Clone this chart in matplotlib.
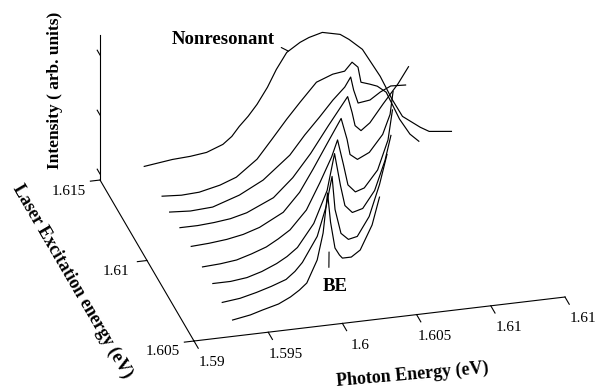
import numpy as np
import matplotlib
matplotlib.use("Agg")
import matplotlib.pyplot as plt
from mpl_toolkits.mplot3d import proj3d

plt.rcParams['font.family'] = ['Liberation Serif', 'DejaVu Serif']

# ---------------- data ----------------
photon_ticks = [1.59, 1.595, 1.6, 1.605, 1.61, 1.615]
photon_labels = ['1.59', '1.595', '1.6', '1.605', '1.61', '1.61']
laser_ticks = [1.605, 1.61, 1.615]
laser_labels = ['1.605', '1.61', '1.615']
intensity_ticks = [0.06, 0.65, 1.25]

laser_energy = [1.6050, 1.6061, 1.6071, 1.6082, 1.6094, 1.6106, 1.6117, 1.6125, 1.6144]

photon_1 = [1.5926, 1.5938, 1.5946, 1.5957, 1.5965, 1.5971, 1.5976, 1.5983, 1.5987, 1.5990, 1.5992, 1.5995, 1.5998, 1.6000, 1.6006, 1.6012, 1.6020, 1.6025]
inten_1 = [0.164, 0.194, 0.228, 0.270, 0.326, 0.384, 0.446, 0.664, 0.927, 1.322, 1.028, 0.763, 0.688, 0.653, 0.653, 0.713, 0.949, 1.219]

photon_2 = [1.5926, 1.5938, 1.5949, 1.5959, 1.5969, 1.5975, 1.5980, 1.5990, 1.5996, 1.6000, 1.6002, 1.6006, 1.6011, 1.6017, 1.6025, 1.6032, 1.6037]
inten_2 = [0.163, 0.183, 0.222, 0.265, 0.317, 0.387, 0.468, 0.711, 0.999, 1.293, 0.959, 0.713, 0.644, 0.663, 0.848, 1.157, 1.447]

photon_3 = [1.5926, 1.5938, 1.5949, 1.5959, 1.5969, 1.5976, 1.5983, 1.5994, 1.6003, 1.6008, 1.6012, 1.6015, 1.6020, 1.6027, 1.6035, 1.6042, 1.6046]
inten_3 = [0.191, 0.191, 0.210, 0.253, 0.315, 0.373, 0.451, 0.672, 0.986, 1.346, 1.020, 0.814, 0.736, 0.764, 0.929, 1.217, 1.461]

photon_4 = [1.5926, 1.5938, 1.5949, 1.5959, 1.5969, 1.5977, 1.5985, 1.5996, 1.6005, 1.6013, 1.6017, 1.6021, 1.6024, 1.6029, 1.6035, 1.6044, 1.6051, 1.6054]
inten_4 = [0.180, 0.190, 0.209, 0.252, 0.304, 0.370, 0.447, 0.626, 0.881, 1.127, 1.290, 1.034, 0.828, 0.749, 0.778, 0.942, 1.230, 1.525]

photon_5 = [1.5926, 1.5938, 1.5950, 1.5961, 1.5972, 1.5988, 1.5999, 1.6008, 1.6018, 1.6027, 1.6031, 1.6033, 1.6038, 1.6046, 1.6055, 1.6060, 1.6062]
inten_5 = [0.192, 0.202, 0.220, 0.250, 0.301, 0.424, 0.604, 0.818, 1.070, 1.294, 1.078, 0.923, 0.865, 0.921, 1.085, 1.277, 1.502]

photon_6 = [1.5926, 1.5938, 1.5949, 1.5960, 1.5971, 1.5989, 1.6002, 1.6014, 1.6026, 1.6039, 1.6042, 1.6044, 1.6048, 1.6054, 1.6063, 1.6073, 1.6080]
inten_6 = [0.186, 0.186, 0.197, 0.216, 0.256, 0.375, 0.552, 0.772, 1.030, 1.298, 1.133, 0.999, 0.942, 1.010, 1.185, 1.368, 1.525]

photon_7 = [1.5926, 1.5940, 1.5955, 1.5973, 1.5989, 1.6007, 1.6017, 1.6027, 1.6036, 1.6044, 1.6048, 1.6050, 1.6053, 1.6061, 1.6068, 1.6075, 1.6085]
inten_7 = [0.165, 0.151, 0.164, 0.252, 0.374, 0.592, 0.775, 0.937, 1.091, 1.207, 1.301, 1.167, 1.032, 1.048, 1.116, 1.164, 1.156]

photon_8 = [1.5926, 1.5939, 1.5951, 1.5965, 1.5976, 1.5990, 1.6000, 1.6010, 1.6019, 1.6030, 1.6041, 1.6049, 1.6054, 1.6058, 1.6060, 1.6066, 1.6071, 1.6077, 1.6081, 1.6086, 1.6093, 1.6099]
inten_8 = [0.195, 0.182, 0.191, 0.237, 0.297, 0.453, 0.634, 0.818, 0.972, 1.152, 1.213, 1.229, 1.310, 1.253, 1.099, 1.069, 1.040, 0.969, 0.843, 0.684, 0.522, 0.440]

photon_9 = [1.5926, 1.5945, 1.5957, 1.5968, 1.5979, 1.5985, 1.5990, 1.5996, 1.6002, 1.6009, 1.6015, 1.6022, 1.6031, 1.6037, 1.6046, 1.6058, 1.6064, 1.6073, 1.6085, 1.6093, 1.6100, 1.6112, 1.6118, 1.6133]
inten_9 = [0.187, 0.223, 0.233, 0.253, 0.314, 0.383, 0.474, 0.565, 0.674, 0.832, 1.000, 1.158, 1.243, 1.281, 1.316, 1.275, 1.214, 1.099, 0.808, 0.564, 0.381, 0.251, 0.199, 0.173]

photon_series = [photon_1, photon_2, photon_3, photon_4, photon_5, photon_6, photon_7, photon_8, photon_9]
inten_series = [inten_1, inten_2, inten_3, inten_4, inten_5, inten_6, inten_7, inten_8, inten_9]

# ---------------- figure ----------------
W, H = 602, 390
fig = plt.figure(figsize=(W / 100, H / 100), dpi=100)
fig.patch.set_facecolor('white')
ax = fig.add_axes([0, 0, 1, 1], projection='3d')
ax.set_proj_type('ortho')
ax.view_init(elev=26.79, azim=-104.74)
ax.set_axis_off()

xmin, xmax = photon_ticks[0], photon_ticks[-1]
ymin, ymax = laser_ticks[0], laser_ticks[-1]
zmax = 1.45

lw = 0.85
for L, px, iz in zip(laser_energy, photon_series, inten_series):
    ax.plot(px, [L] * len(px), iz, color='black', lw=lw, clip_on=False,
            solid_joinstyle='round')

# axis lines
ax.plot([xmin, xmax], [ymin, ymin], [0, 0], color='black', lw=0.8, clip_on=False)
ax.plot([xmin, xmin], [ymin, ymax], [0, 0], color='black', lw=0.8, clip_on=False)
ax.plot([xmin, xmin], [ymax, ymax], [0, zmax], color='black', lw=0.8, clip_on=False)

# ticks
for p in photon_ticks:
    ax.plot([p, p], [ymin, ymin - 0.00045], [0, 0], color='black', lw=0.8, clip_on=False)
for l in laser_ticks:
    ax.plot([xmin, xmin - 0.00065], [l, l], [0, 0], color='black', lw=0.8, clip_on=False)
for zt in intensity_ticks:
    ax.plot([xmin, xmin], [ymax, ymax + 0.0003], [zt, zt], color='black', lw=0.8, clip_on=False)

ax.set_xlim(xmin, xmax)
ax.set_ylim(ymin, ymax)
ax.set_zlim(0, zmax)
aspect = (383.6, 369.3, 162.4)
ax.set_box_aspect(aspect)


def to_px(x, y, z):
    X, Y, _ = proj3d.proj_transform(np.atleast_1d(x), np.atleast_1d(y), np.atleast_1d(z), ax.get_proj())
    return ax.transData.transform(np.column_stack([X, Y]))[0]


# scale and place the projected box
fig.canvas.draw()
p0 = to_px(xmin, ymin, 0)
p1 = to_px(xmax, ymin, 0)
k = 373.6 / np.hypot(*(p1 - p0))
ax.set_box_aspect(aspect, zoom=k)
fig.canvas.draw()
p0 = to_px(xmin, ymin, 0)
target = np.array([194.0, H - 341.0])
d = target - p0
ax.set_position([d[0] / W, d[1] / H, 1, 1])
fig.canvas.draw()

# tick labels (placed at projected positions)
for p, s in zip(photon_ticks, photon_labels):
    pos = to_px(p + 0.000325, ymin - 0.0014, 0)
    fig.text(pos[0] / W, pos[1] / H, s, ha='center', va='center', fontsize=11)
for l, s in zip(laser_ticks, laser_labels):
    pos = to_px(xmin - 0.0021, l, -0.073)
    fig.text(pos[0] / W, pos[1] / H, s, ha='center', va='center', fontsize=11)

# annotations
xy_nr = to_px(1.6023, laser_energy[-1], 1.17)
ax.annotate('Nonresonant', xy=xy_nr, xycoords='figure pixels',
            xytext=(-46.8, 8.6), textcoords='offset points',
            ha='center', va='center', fontsize=13.5, fontweight='bold',
            annotation_clip=False,
            arrowprops=dict(arrowstyle='-', lw=0.8, color='black',
                            relpos=(1.0, 0.2), shrinkA=3, shrinkB=0))
xy_be = to_px(1.5991, laser_energy[0], 0.73)
ax.annotate('BE', xy=xy_be, xycoords='figure pixels',
            xytext=(4.3, -25.2), textcoords='offset points',
            ha='center', va='center', fontsize=13.5, fontweight='bold',
            annotation_clip=False,
            arrowprops=dict(arrowstyle='-', lw=0.8, color='black',
                            relpos=(0.25, 1.0), shrinkA=6, shrinkB=0))

# axis titles
fig.text(55 / W, 1 - 90 / H, 'Intensity ( arb. units)', rotation=90,
         ha='center', va='center', fontsize=12.5, fontweight='bold')
fig.text(72 / W, 1 - 281 / H, 'Laser Excitation energy (eV)', rotation=-59.7,
         ha='center', va='center', fontsize=13, fontweight='bold', rotation_mode='anchor')
fig.text(412 / W, 1 - 375 / H, 'Photon Energy (eV)', rotation=5,
         ha='center', va='center', fontsize=13, fontweight='bold', rotation_mode='anchor')

fig.savefig('out.png', dpi=100)
